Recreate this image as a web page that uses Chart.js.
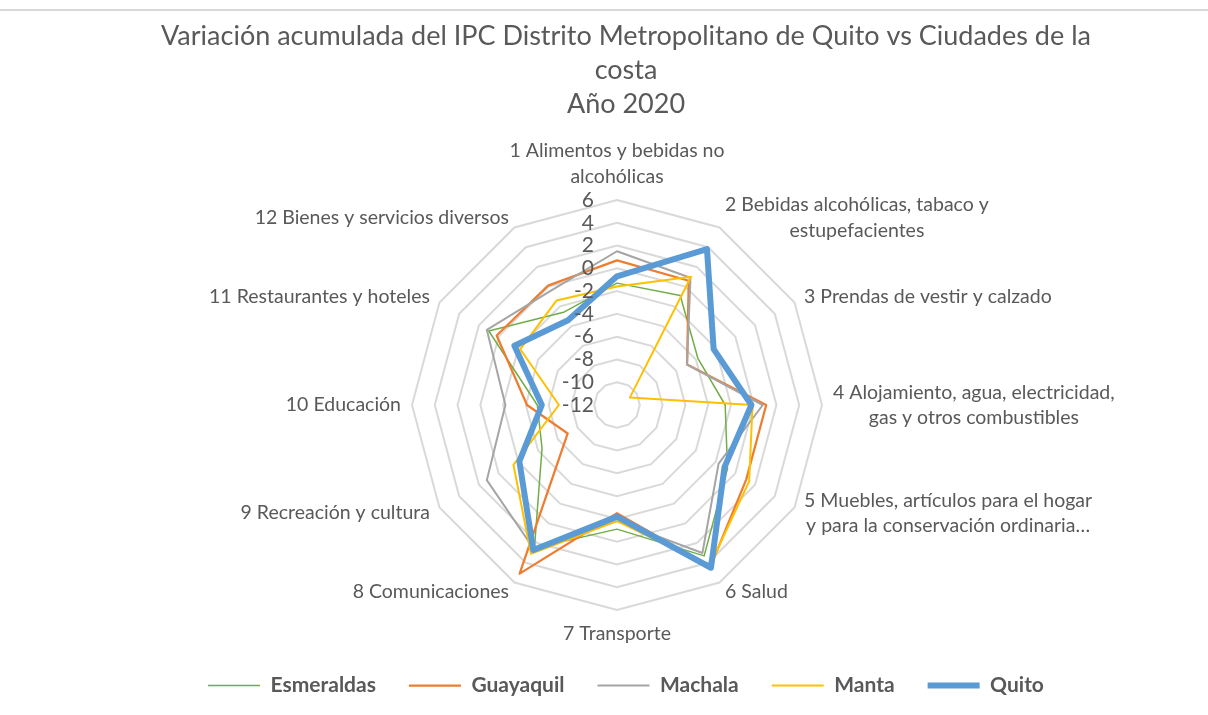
<!DOCTYPE html>
<html><head><meta charset="utf-8">
<script src="https://cdn.jsdelivr.net/npm/chart.js@4/dist/chart.umd.min.js"></script>
<style>
html,body{margin:0;padding:0;background:#fff;}
#wrap{position:relative;width:1208px;height:715px;}
#frame{position:absolute;left:0;right:0;top:9px;height:0;border-top:2px solid #d9d9d9;}
</style></head><body>
<div id="wrap"><div id="frame"></div><canvas id="c"></canvas></div>
<script>
const TITLE_LINES = ['Variación acumulada del IPC Distrito Metropolitano de Quito vs Ciudades de la', 'costa', 'Año 2020'];
const CATEGORIES = [
  ['1 Alimentos y bebidas no', 'alcohólicas'],
  ['2 Bebidas alcohólicas, tabaco y', 'estupefacientes'],
  '3 Prendas de vestir y calzado',
  ['4 Alojamiento, agua, electricidad,', 'gas y otros combustibles'],
  ['5 Muebles, artículos para el hogar', 'y para la conservación ordinaria…'],
  '6 Salud',
  '7 Transporte',
  '8 Comunicaciones',
  '9 Recreación y cultura',
  '10 Educación',
  '11 Restaurantes y hoteles',
  '12 Bienes y servicios diversos'
];
const SERIES_NAMES = ['Esmeraldas', 'Guayaquil', 'Machala', 'Manta', 'Quito'];
const ESMERALDAS = [-1.3, -0.9, -3.8, -2.5, -0.8, 3.3, -1.1, 2.5, -4.4, -5.0, 1.0, -2.6];
const GUAYAQUIL  = [0.7, 0.6, -4.9, 1.1, 1.1, 4.4, -2.5, 5.1, -7.0, -4.1, 0.2, 0.1];
const MACHALA    = [1.5, 0.9, -4.9, 0.8, -1.7, 3.0, -1.8, 2.6, 1.2, -2.2, 1.2, -0.4];
const MANTA      = [-1.6, 1.0, -10.7, -0.1, 1.4, 4.3, -1.8, 3.1, -1.5, -6.9, -2.2, -1.4];
const QUITO      = [-0.7, 3.8, -2.2, -0.2, -1.1, 4.5, -2.2, 2.7, -2.1, -5.4, -1.6, -3.4];
const TICK_VALUES = [-12, -10, -8, -6, -4, -2, 0, 2, 4, 6];

const FONT = "Lato, 'Open Sans', 'Liberation Sans', sans-serif";
const TEXT_COLOR = '#595959';
const LABEL_GAP = 11;
const CENTER_SHIFT_X = -9;
const TICK_LABEL_GAP = 23;

const tickLabelPlugin = {
  id: 'tickLabels',
  afterDatasetsDraw(chart) {
    const s = chart.scales.r;
    const ctx = chart.ctx;
    ctx.save();
    ctx.font = '21px ' + FONT;
    ctx.fillStyle = TEXT_COLOR;
    ctx.textAlign = 'right';
    ctx.textBaseline = 'middle';
    TICK_VALUES.forEach(v => {
      const d = s.getDistanceFromCenterForValue(v);
      ctx.fillText(String(v), s.xCenter - TICK_LABEL_GAP, s.yCenter - d);
    });
    ctx.restore();
  }
};

function placeLabels(scale) {
  scale.xCenter += CENTER_SHIFT_X;
  const items = scale._pointLabelItems;
  if (!items) return;
  const n = items.length;
  items.forEach((it, i) => {
    const w = it.right - it.left, h = it.bottom - it.top;
    const p = scale.getPointPosition(i, scale.drawingArea + LABEL_GAP);
    const deg = Math.round(i * 360 / n) % 360;
    let cx, top;
    if (deg === 0) { cx = p.x; top = p.y - h; }
    else if (deg === 180) { cx = p.x; top = p.y; }
    else { cx = deg < 180 ? p.x + w / 2 : p.x - w / 2; top = p.y - h / 2; }
    it.textAlign = 'center';
    it.x = cx; it.y = top;
    it.left = cx - w / 2; it.right = cx + w / 2; it.top = top; it.bottom = top + h;
  });
}

const COLORS = ['#70AD47', '#ED7D31', '#A5A5A5', '#FFC000', '#5B9BD5'];
const WIDTHS = [1.5, 2.25, 2, 2, 6];
const VALUES = [ESMERALDAS, GUAYAQUIL, MACHALA, MANTA, QUITO];

const datasets = SERIES_NAMES.map((name, k) => ({
  label: name,
  data: VALUES[k],
  borderColor: COLORS[k],
  backgroundColor: COLORS[k],
  borderWidth: WIDTHS[k],
  borderJoinStyle: 'round',
  borderCapStyle: 'round',
  pointRadius: 0,
  pointHoverRadius: 0,
  fill: false,
  tension: 0,
  order: SERIES_NAMES.length - k
}));

new Chart(document.getElementById('c'), {
  type: 'radar',
  data: { labels: CATEGORIES, datasets },
  options: {
    responsive: true,
    maintainAspectRatio: false,
    animation: false,
    layout: { padding: { left: 44, right: 0, top: 0, bottom: 9 } },
    scales: {
      r: {
        min: TICK_VALUES[0],
        max: TICK_VALUES[TICK_VALUES.length - 1],
        ticks: { stepSize: 2, display: false },
        grid: { color: '#d9d9d9', lineWidth: 2, circular: false },
        angleLines: { display: false },
        pointLabels: {
          color: TEXT_COLOR,
          padding: -7,
          font: { family: FONT, size: 19.5, lineHeight: '25.5px' }
        },
        afterFit: placeLabels
      }
    },
    plugins: {
      title: {
        display: true,
        text: TITLE_LINES,
        color: TEXT_COLOR,
        font: { family: FONT, size: 27, weight: 'normal', lineHeight: '34px' },
        padding: { top: 19, bottom: 23 }
      },
      legend: {
        position: 'bottom',
        labels: {
          color: TEXT_COLOR,
          font: { family: FONT, size: 21, weight: 'bold' },
          usePointStyle: true,
          pointStyle: 'line',
          pointStyleWidth: 52,
          padding: 33,
          sort: (a, b) => a.datasetIndex - b.datasetIndex
        }
      },
      tooltip: { enabled: false }
    }
  },
  plugins: [tickLabelPlugin]
});
</script>
</body></html>
